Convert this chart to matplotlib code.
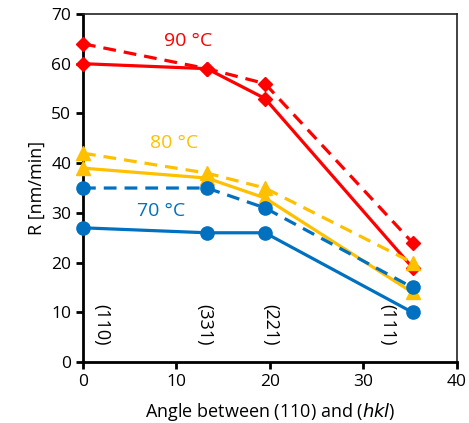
import matplotlib.pyplot as plt

plt.rcParams["font.family"] = ["Open Sans", "DejaVu Sans"]

RED = "#FF0000"
YELLOW = "#FFC000"
BLUE = "#0070C0"

# angle between (110) and (hkl), degrees
angle = [0, 13.26, 19.47, 35.26]
planes = ["(110)", "(331)", "(221)", "(111)"]

r90_solid = [60, 59, 53, 19]
r90_dash = [64, 59, 56, 24]
r80_solid = [39, 37, 33, 14]
r80_dash = [42, 38, 35, 20]
r70_solid = [27, 26, 26, 10]
r70_dash = [35, 35, 31, 15]

fig = plt.figure(figsize=(4.69, 4.23), dpi=100)
ax = fig.add_axes([0.177, 0.144, 0.797, 0.823])

series = [
    (r90_dash, RED, "D", "--"),
    (r90_solid, RED, "D", "-"),
    (r80_dash, YELLOW, "^", "--"),
    (r80_solid, YELLOW, "^", "-"),
    (r70_dash, BLUE, "o", "--"),
    (r70_solid, BLUE, "o", "-"),
]
for vals, col, mk, ls in series:
    ms = 7.5 if mk == "D" else 9.5
    ax.plot(angle, vals, color=col, marker=mk, linestyle=ls, linewidth=2.3,
            markersize=ms, dashes=(4, 2.5) if ls == "--" else (None, None),
            clip_on=False, zorder=3)

ax.text(11.2, 64.5, "90 °C", color=RED, fontsize=14, ha="center", va="center")
ax.text(9.8, 44, "80 °C", color=YELLOW, fontsize=14, ha="center", va="center")
ax.text(8.4, 30.3, "70 °C", color=BLUE, fontsize=14, ha="center", va="center")

label_x = [2.0, 13.0, 20.0, 32.6]
for x, p in zip(label_x, planes):
    ax.text(x, 7.5, p, rotation=-90, fontsize=13, ha="center", va="center")

ax.set_xlim(0, 40)
ax.set_ylim(0, 70)
ax.set_xticks([0, 10, 20, 30, 40])
ax.set_yticks(range(0, 71, 10))
ax.tick_params(labelsize=12.5, width=2, length=5, direction="out")
ax.set_xlabel("Angle between (110) and ($\\it{hkl}$)", fontsize=13, labelpad=8)
ax.set_ylabel("R [nm/min]", fontsize=13)
for s in ["left", "bottom"]:
    ax.spines[s].set_linewidth(2)
for s in ["top", "right"]:
    ax.spines[s].set_linewidth(1.2)
    ax.spines[s].set_color("#222222")

fig.savefig("out.png", dpi=100)
